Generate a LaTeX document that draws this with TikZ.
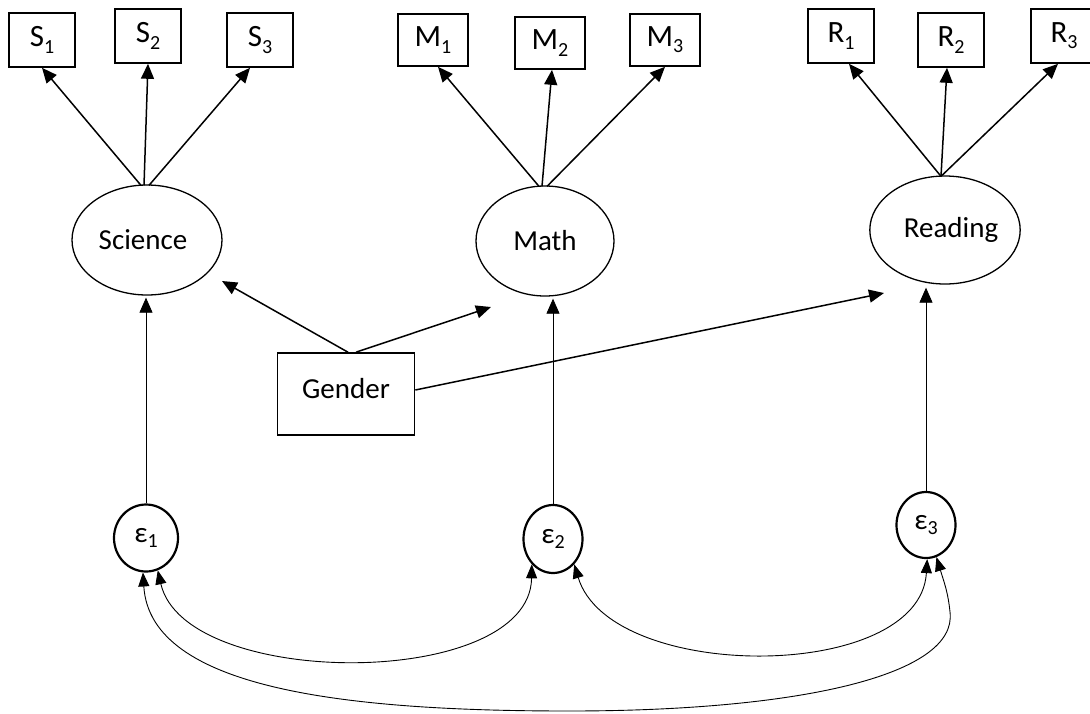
\documentclass[tikz,border=0pt]{standalone}
\usepackage{fontspec}
\setmainfont{Carlito}
\usetikzlibrary{arrows.meta,shapes.geometric,calc}
\newcommand\mysub[1]{\raisebox{-0.2em}{\fontsize{20}{20}\selectfont #1}}
\begin{document}
\begin{tikzpicture}[x=1pt,y=-1pt,
  txt/.style={font=\fontsize{29}{29}\selectfont},
  btxt/.style={font=\fontsize{31}{31}\selectfont},
  obs/.style={draw, line width=1.6pt, minimum width=66pt, minimum height=54pt, inner sep=0pt, btxt},
  obsw/.style={obs, minimum width=70pt, minimum height=52pt},
  lat/.style={draw, ellipse, line width=1.3pt, inner sep=0pt, txt},
  err/.style={draw, ellipse, line width=2.2pt, minimum width=62pt, minimum height=67pt, inner sep=0pt, txt},
  arr/.style={-{Triangle[length=15pt,width=13pt]}, line width=1.5pt},
  varr/.style={-{Triangle[length=15pt,width=13pt]}, line width=0.8pt},
  carr/.style={{Triangle[length=14pt,width=11pt]}-{Triangle[length=14pt,width=11pt]}, line width=0.9pt}
]
\useasboundingbox (0,0) rectangle (1090,713);
\begin{scope}
\clip (0,0) rectangle (1090,713);
% observed indicators
\node[obs] (s1) at (42,40) {S\mysub{1}};
\node[obs] (s2) at (148,36) {S\mysub{2}};
\node[obs] (s3) at (260,40) {S\mysub{3}};
\node[obsw] (m1) at (433,40) {M\mysub{1}};
\node[obsw] (m2) at (550,43) {M\mysub{2}};
\node[obsw] (m3) at (665,40) {M\mysub{3}};
\node[obs] (r1) at (841,36) {R\mysub{1}};
\node[obs] (r2) at (951,40) {R\mysub{2}};
\node[obs] (r3) at (1064,36) {R\mysub{3}};
\end{scope}
% latent variables
\node[lat, minimum width=150pt, minimum height=110pt] (sci) at (147,240) {\hspace*{-8pt}Science};
\node[lat, minimum width=138pt, minimum height=110pt] (math) at (545,241) {Math};
\node[lat, minimum width=130pt, minimum height=108pt] (read) at (945,230) {\hspace*{12pt}Reading};
% gender
\node[draw, line width=1.6pt, minimum width=137pt, minimum height=82pt, inner sep=0pt, txt, text depth=0pt] (gen) at (346,394) {\raisebox{12pt}{Gender}};
% errors
\node[err, minimum width=64pt] (e1) at (146,538) {ε\mysub{1}};
\node[err, minimum width=59pt, minimum height=68pt] (e2) at (553,539) {ε\mysub{2}};
\node[err, minimum width=59pt, minimum height=66pt] (e3) at (926,525) {ε\mysub{3}};
% arrow ends of the gender effects
\coordinate (tipsci) at (222,281);
\coordinate (tipmath) at (491,307);
\coordinate (tipread) at (884,293);
% loadings
\draw[arr] ([xshift=-6pt,yshift=-1pt]sci.north) -- (s1.south);
\draw[arr] ([xshift=-3pt,yshift=-1pt]sci.north) -- (s2.south);
\draw[arr] ([xshift=2pt,yshift=-1pt]sci.north) -- ([xshift=-10pt]s3.south);
\draw[arr] ([xshift=-6pt,yshift=-1pt]math.north) -- ([xshift=5pt]m1.south);
\draw[arr] ([xshift=-3pt,yshift=-1pt]math.north) -- ([xshift=2pt]m2.south);
\draw[arr] ([xshift=2pt,yshift=-1pt]math.north) -- (m3.south);
\draw[arr] ([xshift=-4pt,yshift=-1pt]read.north) -- ([xshift=8pt]r1.south);
\draw[arr] ([xshift=-4pt,yshift=-1pt]read.north) -- ([xshift=-4pt]r2.south);
\draw[arr] ([xshift=-4pt,yshift=-1pt]read.north) -- ([xshift=-6pt]r3.south);
% gender effects
\draw[arr] ([xshift=2pt]gen.north) -- (tipsci);
\draw[arr] ([xshift=10pt]gen.north) -- (tipmath);
\draw[arr] ([yshift=4pt]gen.east) -- (tipread);
% error to latent
\draw[varr, shorten >=2pt] (e1.north) -- (e1.north |- sci.south);
\draw[varr, shorten >=2pt] (e2.north) -- (e2.north |- math.south);
\draw[varr, shorten >=3pt] (e3.north) -- (e3.north |- read.south);
% covariances
\draw[carr] (e1.-70) .. controls (185,690) and (530,690) .. (e2.230);
\draw[carr] (e2.-50) .. controls (610,683) and (920,683) .. (e3.-88);
\draw[carr] (e1.-95) .. controls (150,690) and (350,711) .. (569,711)
  .. controls (800,711) and (958,675) .. (950,612)
  .. controls (948,592) and (944,582) .. (e3.-72);
\end{tikzpicture}
\end{document}
